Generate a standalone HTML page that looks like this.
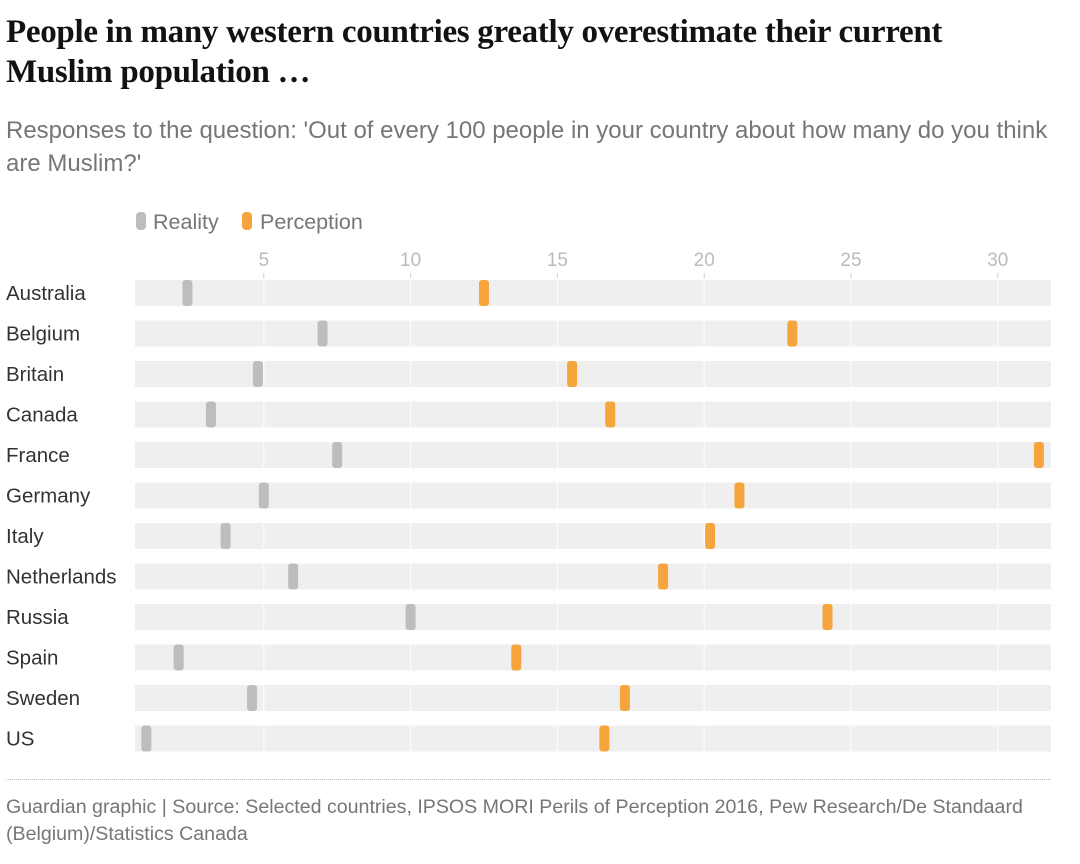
<!DOCTYPE html>
<html><head><meta charset="utf-8"><style>
body{margin:0;width:1080px;height:864px;background:#fff;font-family:"Liberation Sans",sans-serif;overflow:hidden;position:relative}
h1{position:absolute;left:6px;top:12px;margin:0;font-family:"Liberation Serif",serif;font-weight:bold;font-size:33px;line-height:40px;color:#121212;width:1000px;letter-spacing:-0.3px}
.sub{position:absolute;left:6px;top:114px;font-size:24px;line-height:33px;color:#767676;width:1055px}
.foot{position:absolute;left:6px;top:794px;font-size:19.6px;line-height:27px;color:#767676;width:1045px}
.rule{position:absolute;left:6px;top:779px;width:1045px;border-top:1px dotted #bbb}
svg{position:absolute;left:0;top:0}
</style></head><body>
<h1>People in many western countries greatly overestimate their current Muslim population …</h1>
<div class="sub">Responses to the question: 'Out of every 100 people in your country about how many do you think are Muslim?'</div>
<svg id="chart" width="1080" height="864"></svg>
<div class="rule"></div>
<div class="foot">Guardian graphic | Source: Selected countries, IPSOS MORI Perils of Perception 2016, Pew Research/De Standaard (Belgium)/Statistics Canada</div>
<script>
const countries=["Australia","Belgium","Britain","Canada","France","Germany","Italy","Netherlands","Russia","Spain","Sweden","US"];
const reality=[2.4,7.0,4.8,3.2,7.5,5.0,3.7,6.0,10.0,2.1,4.6,1.0];
const perception=[12.5,23.0,15.5,16.8,31.4,21.2,20.2,18.6,24.2,13.6,17.3,16.6];
const ticks=[5,10,15,20,25,30];
const NS="http://www.w3.org/2000/svg";
const svg=document.getElementById('chart');
const x=v=>117+v*29.36;
const yc=i=>293+i*40.5;
function mk(t,a,p){const e=document.createElementNS(NS,t);for(const k in a)e.setAttribute(k,a[k]);(p||svg).appendChild(e);return e;}
let g=mk('g',{});


mk('rect',{x:136,y:212,width:10,height:18,rx:4,fill:'#bdbdbd'},g);
let t=mk('text',{x:153,y:229,'font-size':21.5,fill:'#767676'},g);t.textContent='Reality';
mk('rect',{x:242,y:212,width:10,height:18,rx:4,fill:'#f5a53c'},g);
t=mk('text',{x:260,y:229,'font-size':21.5,fill:'#767676'},g);t.textContent='Perception';
countries.forEach((c,i)=>{
 const r=mk('rect',{x:135,y:yc(i)-13,width:916,height:26,fill:'#efefef'});
 
 
 const l=mk('text',{x:6,y:yc(i)+7,'font-size':20.5,fill:'#333'});l.textContent=c;
 
 
});
ticks.forEach(v=>{
 const tx=mk('text',{x:x(v),y:266,'font-size':19,fill:'#bbb','text-anchor':'middle'});tx.textContent=v;
 
 
 mk('line',{x1:x(v),x2:x(v),y1:273,y2:278,stroke:'#ccc'});
 mk('line',{x1:x(v),x2:x(v),y1:280,y2:751,stroke:'#fff','stroke-width':1});
});
countries.forEach((c,i)=>{
 const a=mk('rect',{x:x(reality[i])-5,y:yc(i)-13,width:10,height:26,rx:3,fill:'#bdbdbd'});
 
 
 const b=mk('rect',{x:x(perception[i])-5,y:yc(i)-13,width:10,height:26,rx:3,fill:'#f5a53c'});
 
 
});
</script>
</body></html>
